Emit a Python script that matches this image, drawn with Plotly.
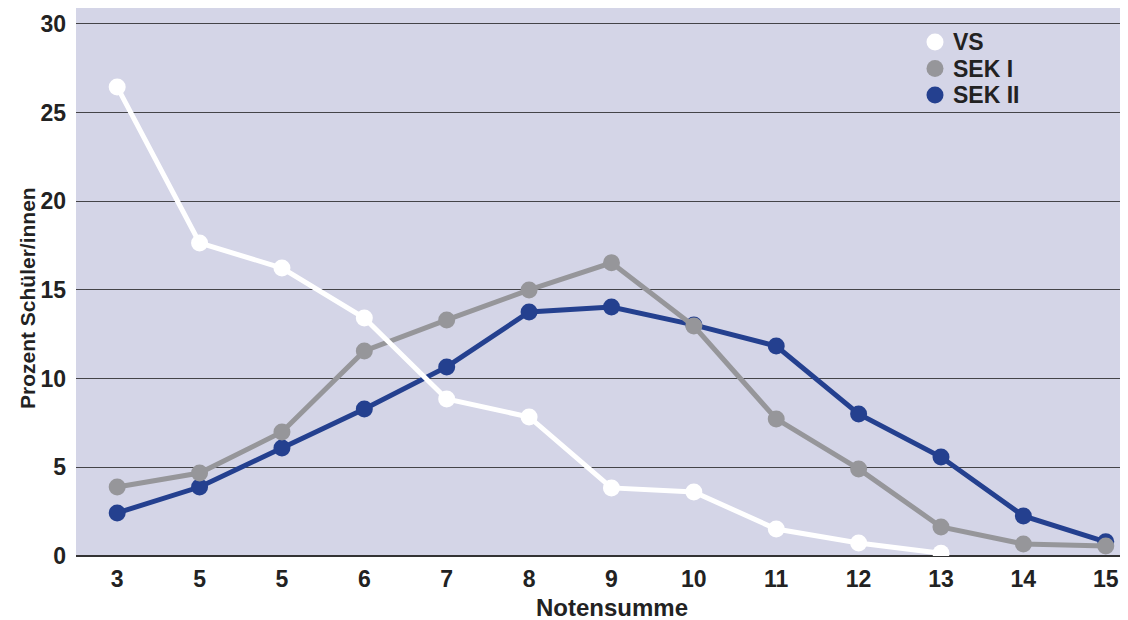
import plotly.graph_objects as go

labels = ["3", "5", "5", "6", "7", "8", "9", "10", "11", "12", "13", "14", "15"]
vs = [26.45, 17.65, 16.24, 13.42, 8.85, 7.84, 3.84, 3.61, 1.52, 0.73, 0.15]
sek1 = [3.89, 4.68, 6.99, 11.56, 13.31, 15.0, 16.53, 12.97, 7.73, 4.91, 1.64, 0.68, 0.56]
sek2 = [2.43, 3.89, 6.09, 8.29, 10.66, 13.76, 14.04, 13.03, 11.84, 8.01, 5.58, 2.26, 0.8]

series = [("SEK II", sek2, "#24408F"), ("SEK I", sek1, "#96969A"), ("VS", vs, "#FFFFFF")]
legend_order = ["VS", "SEK I", "SEK II"]

FONT = "Liberation Sans, Arial, sans-serif"
# page body has an 8px margin -> figure drawn at (8, 8)
W, H = 1120, 612
ML, MT, MB = 68, 0, 64
PW, PH = W - ML, H - MT - MB

fig = go.Figure()
for name, vals, col in series:
    xs = list(range(len(vals)))
    fig.add_trace(go.Scatter(x=xs, y=vals, mode="lines+markers", name=name,
                             line=dict(color=col, width=5),
                             marker=dict(color=col, size=17),
                             showlegend=False, hoverinfo="skip"))

colors = {n: c for n, _, c in series}
shapes, annos = [], []
for i, name in enumerate(legend_order):
    cy = 34 + i * 26.5  # pixel row in figure coords (from top)
    yp = (H - MB - cy) / PH
    xp = (927 - ML) / PW
    shapes.append(dict(type="circle", xref="paper", yref="paper", xsizemode="pixel", ysizemode="pixel",
                       xanchor=xp, yanchor=yp, x0=-8.5, x1=8.5, y0=-8.5, y1=8.5,
                       fillcolor=colors[name], line=dict(width=0)))
    annos.append(dict(text=f"<b>{name}</b>", xref="paper", yref="paper", x=(943 - ML) / PW, y=yp,
                      xanchor="left", yanchor="middle", showarrow=False, font=dict(size=23)))

annos += [
    dict(text="<b>Notensumme</b>", xref="paper", yref="paper", x=(604 - ML) / PW, y=-(599 - (H - MB)) / PH,
         xanchor="center", yanchor="middle", showarrow=False, font=dict(size=24)),
    dict(text="<b>Prozent Schüler/innen</b>", xref="paper", yref="paper", x=(19 - ML) / PW,
         y=(H - MB - 290) / PH, xanchor="center", yanchor="middle", textangle=-90,
         showarrow=False, font=dict(size=21)),
]

fig.update_layout(
    width=W, height=H,
    margin=dict(l=ML, r=0, t=MT, b=MB, autoexpand=False),
    paper_bgcolor="white", plot_bgcolor="#D4D5E7",
    font=dict(family=FONT, size=23, color="#222222"),
    showlegend=False,
    xaxis=dict(range=[-0.5, 12.27], tickmode="array", tickvals=list(range(len(labels))),
               ticktext=[f"<b>{t}</b>" for t in labels], showgrid=False, zeroline=False,
               showline=False, ticks="", ticklabelstandoff=7, automargin=False),
    yaxis=dict(range=[0, 30.90], tickvals=[0, 5, 10, 15, 20, 25, 30],
               ticktext=[f"<b>{v}</b>" for v in [0, 5, 10, 15, 20, 25, 30]],
               showgrid=True, gridcolor="#444448", gridwidth=1,
               zeroline=True, zerolinecolor="#333333", zerolinewidth=1.5,
               ticks="", ticklabelstandoff=9, automargin=False),
    shapes=shapes,
    annotations=annos,
)
fig.write_html("out.html")
